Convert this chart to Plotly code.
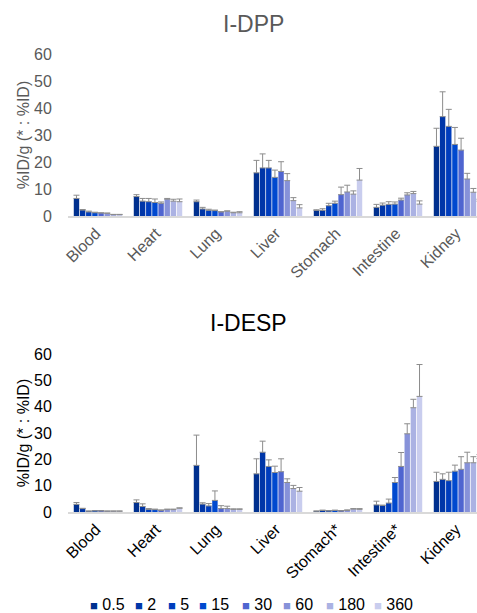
import plotly.graph_objects as go

organs_dpp = ["Blood", "Heart", "Lung", "Liver", "Stomach", "Intestine", "Kidney"]
organs_desp = ["Blood", "Heart", "Lung", "Liver", "Stomach*", "Intestine*", "Kidney"]
times = ["0.5", "2", "5", "15", "30", "60", "180", "360"]
colors = ["#00308f", "#0036a8", "#003dbd", "#0049cf", "#4f65d0", "#8792d9", "#abb2e3", "#c9cdee"]
y_ticks = [0, 10, 20, 30, 40, 50, 60]

# I-DPP: mean values per time point (across organs) and error (+SD)
dpp_0_5 = [6.5, 7.2, 5.3, 16.0, 2.1, 3.2, 25.8]
dpp_2 = [2.2, 5.5, 2.6, 17.8, 2.1, 4.0, 36.8]
dpp_5 = [1.5, 5.3, 2.1, 17.8, 3.8, 4.3, 33.2]
dpp_15 = [1.2, 5.0, 2.0, 14.3, 4.7, 4.4, 26.5]
dpp_30 = [1.1, 4.7, 1.5, 16.5, 7.9, 5.9, 24.4]
dpp_60 = [1.0, 6.2, 1.8, 13.1, 8.9, 7.8, 13.7]
dpp_180 = [0.5, 5.5, 1.2, 5.7, 8.1, 8.3, 8.8]
dpp_360 = [0.5, 5.3, 1.2, 3.0, 13.3, 4.4, 5.5]

dpp_err_0_5 = [1.2, 0.7, 0.6, 4.6, 0.2, 1.1, 6.7]
dpp_err_2 = [0.2, 1.0, 0.6, 5.2, 0.6, 0.8, 9.2]
dpp_err_5 = [0.3, 1.2, 0.4, 2.8, 0.9, 1.0, 6.3]
dpp_err_15 = [0.2, 1.3, 0.2, 2.7, 0.8, 0.8, 6.3]
dpp_err_30 = [0.1, 0.5, 0.1, 3.6, 2.8, 0.7, 4.4]
dpp_err_60 = [0.1, 0.3, 0.1, 2.6, 2.5, 0.8, 2.1]
dpp_err_180 = [0.1, 0.7, 0.2, 1.1, 1.2, 0.8, 1.4]
dpp_err_360 = [0.1, 1.0, 0.4, 1.2, 4.3, 1.2, 0.7]

# I-DESP
desp_0_5 = [2.9, 3.6, 17.7, 14.5, 0.3, 2.7, 11.6]
desp_2 = [1.3, 2.1, 3.0, 22.7, 0.6, 2.5, 12.4]
desp_5 = [0.3, 1.0, 2.3, 17.3, 0.4, 3.4, 11.9]
desp_15 = [0.4, 0.9, 4.4, 15.0, 0.6, 11.2, 15.5]
desp_30 = [0.4, 0.6, 1.3, 15.3, 0.4, 17.3, 16.2]
desp_60 = [0.3, 0.9, 1.3, 11.2, 0.6, 29.7, 18.7]
desp_180 = [0.3, 0.9, 1.0, 8.9, 1.1, 39.6, 18.7]
desp_360 = [0.3, 1.4, 1.0, 7.9, 1.0, 43.9, 20.3]

desp_err_0_5 = [0.7, 1.0, 11.5, 5.7, 0.1, 1.4, 3.5]
desp_err_2 = [0.1, 1.0, 0.5, 4.2, 0.1, 0.1, 2.1]
desp_err_5 = [0.1, 0.3, 0.9, 2.5, 0.1, 1.5, 3.2]
desp_err_15 = [0.1, 0.2, 3.6, 2.4, 0.1, 1.9, 2.3]
desp_err_30 = [0.1, 0.2, 1.1, 4.9, 0.1, 5.3, 4.8]
desp_err_60 = [0.1, 0.2, 0.9, 1.4, 0.2, 3.8, 4.0]
desp_err_180 = [0.1, 0.2, 0.2, 1.2, 0.2, 3.2, 2.3]
desp_err_360 = [0.1, 0.2, 0.2, 1.4, 0.3, 12.1, 1.5]

dpp_vals = [dpp_0_5, dpp_2, dpp_5, dpp_15, dpp_30, dpp_60, dpp_180, dpp_360]
dpp_errs = [dpp_err_0_5, dpp_err_2, dpp_err_5, dpp_err_15, dpp_err_30, dpp_err_60, dpp_err_180, dpp_err_360]
desp_vals = [desp_0_5, desp_2, desp_5, desp_15, desp_30, desp_60, desp_180, desp_360]
desp_errs = [desp_err_0_5, desp_err_2, desp_err_5, desp_err_15, desp_err_30, desp_err_60, desp_err_180, desp_err_360]

FONT = "Liberation Sans, Arial, sans-serif"
W, H = 477, 613
ML = 68

fig = go.Figure()
for i, t in enumerate(times):
    fig.add_trace(go.Bar(
        x=organs_dpp, y=dpp_vals[i], name=t, marker_color=colors[i],
        marker_line_width=0, xaxis="x", yaxis="y", showlegend=False,
        error_y=dict(type="data", array=dpp_errs[i], arrayminus=[0] * 7,
                     symmetric=False, color="#8c8c8c", thickness=1, width=3),
    ))
for i, t in enumerate(times):
    fig.add_trace(go.Bar(
        x=organs_desp, y=desp_vals[i], name=t, marker_color=colors[i],
        marker_line_width=0, xaxis="x2", yaxis="y2", showlegend=False,
        error_y=dict(type="data", array=desp_errs[i], arrayminus=[0] * 7,
                     symmetric=False, color="#8c8c8c", thickness=1, width=3),
    ))


def py(p):
    return 1 - p / H


def px(p):
    return (p - ML) / (W - ML)


xr = [-0.5, -0.5 + (W - ML) / 60.0]

common_x = dict(type="category", showgrid=False, zeroline=False, showline=True,
                linecolor="#d9d9d9", linewidth=1.5, ticks="", tickangle=-45,
                ticklabelshift=-2, automargin=False, range=xr)
common_y = dict(range=[0, 60], tickvals=y_ticks, showgrid=False, zeroline=False,
                showline=False, ticks="outside", ticklen=12,
                tickcolor="rgba(0,0,0,0)", automargin=False)

fig.update_layout(
    template="none",
    width=W, height=H,
    margin=dict(l=ML, r=0, t=0, b=0, autoexpand=False),
    paper_bgcolor="white", plot_bgcolor="white",
    barmode="group", bargap=0.18, bargroupgap=0.12,
    showlegend=False,
    font=dict(family=FONT, size=16, color="#000000"),
    xaxis=dict(common_x, domain=[0, 1], anchor="y",
               tickfont=dict(family=FONT, size=16, color="#595959")),
    yaxis=dict(common_y, domain=[py(216), py(54)], anchor="x",
               tickfont=dict(family=FONT, size=16, color="#595959"),
               title=dict(text="%ID/g (* : %ID)", standoff=0,
                          font=dict(family=FONT, size=16, color="#595959"))),
    xaxis2=dict(common_x, domain=[0, 1], anchor="y2",
                tickfont=dict(family=FONT, size=16, color="#000000")),
    yaxis2=dict(common_y, domain=[py(512), py(354)], anchor="x2",
                tickfont=dict(family=FONT, size=16, color="#000000"),
                title=dict(text="%ID/g (* : %ID)", standoff=0,
                           font=dict(family=FONT, size=16, color="#000000"))),
)

annotations = [
    dict(text="I-DPP", x=px(253), y=py(24), xref="paper", yref="paper",
         showarrow=False, xanchor="center", yanchor="middle",
         font=dict(family=FONT, size=23, color="#595959")),
    dict(text="I-DESP", x=px(248), y=py(323), xref="paper", yref="paper",
         showarrow=False, xanchor="center", yanchor="middle",
         font=dict(family=FONT, size=23, color="#000000")),
]

# legend (series key) below the lower chart
legend_x = [89, 134, 167, 198, 241, 282, 325, 373]
for i, t in enumerate(times):
    annotations.append(dict(
        text='<span style="color:%s;font-size:13px">■</span> %s' % (colors[i], t),
        x=px(legend_x[i] - 1), y=py(604), xref="paper", yref="paper",
        showarrow=False, xanchor="left", yanchor="middle",
        font=dict(family=FONT, size=16, color="#000000"),
    ))

fig.update_layout(annotations=annotations)

fig.write_html("out.html", config={"displayModeBar": False},
               post_script="document.body.style.margin='0px';")
